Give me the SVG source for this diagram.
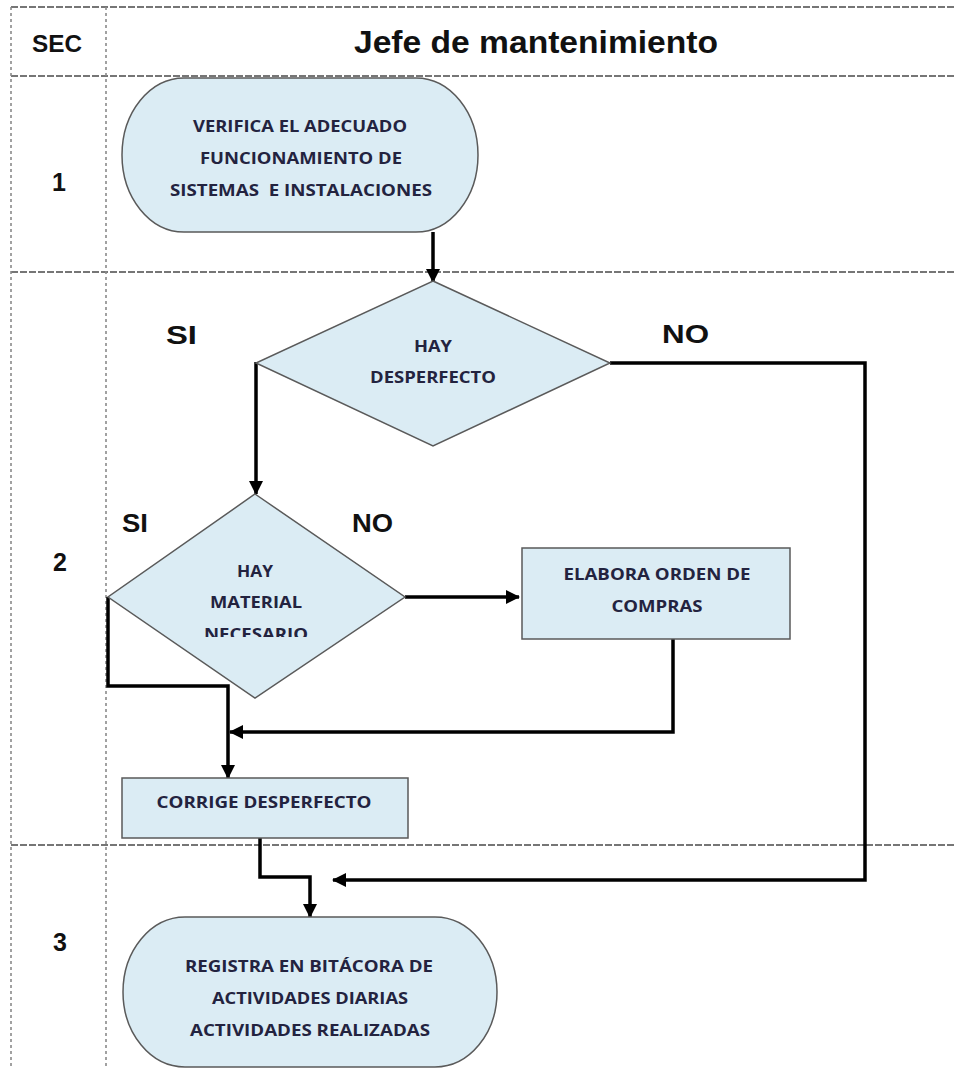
<svg xmlns="http://www.w3.org/2000/svg" width="955" height="1069" viewBox="0 0 955 1069">
  <style>
    .grid { fill: none; stroke: #4a4a4a; stroke-width: 1.6; stroke-dasharray: 7 2; }
    .gridv { fill: none; stroke: #8a8a8a; stroke-width: 1.6; stroke-dasharray: 3 3; }
    .head { font-family: "Liberation Sans", Arial, sans-serif; font-weight: bold; fill: #111; }
    .shape { fill: #dbecf4; stroke: #5a5a5a; stroke-width: 1.5; }
    .lbl { font-family: "Open Sans", Lato, sans-serif; font-weight: bold; font-size: 16.5px; fill: #23233f; text-anchor: middle; white-space: pre; }
    .yn { font-family: "Liberation Sans", Arial, sans-serif; font-weight: bold; font-size: 26px; fill: #111; }
    .conn { fill: none; stroke: #000; stroke-width: 3.5; marker-end: url(#arrow); }
  </style>
  <defs>
    <marker id="arrow" markerUnits="userSpaceOnUse" markerWidth="14" markerHeight="14" refX="13" refY="7" orient="auto">
      <path d="M0,0 L14,7 L0,14 z" fill="#000"/>
    </marker>
    <clipPath id="clipD2">
      <rect x="100" y="480" width="320" height="157"/>
    </clipPath>
  </defs>

  <rect width="955" height="1069" fill="#fff"/>

  <!-- table grid -->
  <g id="grid">
    <line class="grid" x1="11" y1="7" x2="955" y2="7"/>
    <line class="grid" x1="11" y1="76" x2="955" y2="76" stroke-width="2.6"/>
    <line class="grid" x1="11" y1="272" x2="955" y2="272"/>
    <line class="grid" x1="11" y1="845" x2="955" y2="845"/>
    <line class="gridv" x1="11" y1="7" x2="11" y2="1069" stroke-width="2.2"/>
    <line class="gridv" x1="106" y1="7" x2="106" y2="1069" stroke-dasharray="2 5"/>
    <text class="head" x="57" y="52" font-size="24" text-anchor="middle" textLength="50" lengthAdjust="spacingAndGlyphs">SEC</text>
    <text class="head" x="536" y="53" font-size="31" text-anchor="middle" textLength="364" lengthAdjust="spacingAndGlyphs">Jefe de mantenimiento</text>
    <text class="head" x="59" y="191" font-size="25" text-anchor="middle">1</text>
    <text class="head" x="60" y="571" font-size="25" text-anchor="middle">2</text>
    <text class="head" x="60" y="951" font-size="25" text-anchor="middle">3</text>
  </g>

  <!-- connectors -->
  <g id="connectors">
    <path class="conn" d="M433,232 V282"/>
    <path class="conn" d="M610,363 H865 V880 H333"/>
    <path class="conn" d="M256,362 V494"/>
    <path class="conn" d="M108,597 V686 H228 V778"/>
    <path class="conn" d="M405,597 H519"/>
    <path class="conn" d="M673,639 V732 H230"/>
    <path class="conn" d="M260,838 V877 H310 V917"/>
  </g>

  <g id="n1">
    <rect class="shape" x="122" y="78" width="356" height="154" rx="62" ry="77"/>
    <text class="lbl" x="300" y="132" textLength="214" lengthAdjust="spacingAndGlyphs">VERIFICA EL ADECUADO</text>
    <text class="lbl" x="301" y="164" textLength="202" lengthAdjust="spacingAndGlyphs">FUNCIONAMIENTO DE</text>
    <text class="lbl" x="301" y="196" textLength="262" lengthAdjust="spacingAndGlyphs" xml:space="preserve">SISTEMAS  E INSTALACIONES</text>
  </g>

  <g id="d1">
    <polygon class="shape" points="433,281 610,363 433,446 256,363"/>
    <text class="lbl" x="433" y="352" textLength="38" lengthAdjust="spacingAndGlyphs">HAY</text>
    <text class="lbl" x="433" y="383" textLength="126" lengthAdjust="spacingAndGlyphs">DESPERFECTO</text>
    <text class="yn" x="166" y="344" textLength="31" lengthAdjust="spacingAndGlyphs">SI</text>
    <text class="yn" x="662" y="343" textLength="47" lengthAdjust="spacingAndGlyphs">NO</text>
  </g>

  <g id="d2">
    <polygon class="shape" points="255,494 405,597 255,698 108,597"/>
    <g clip-path="url(#clipD2)">
      <text class="lbl" x="255" y="577" textLength="36" lengthAdjust="spacingAndGlyphs">HAY</text>
      <text class="lbl" x="256" y="608" textLength="92" lengthAdjust="spacingAndGlyphs">MATERIAL</text>
      <text class="lbl" x="256" y="640" textLength="104" lengthAdjust="spacingAndGlyphs">NECESARIO</text>
    </g>
    <text class="yn" x="122" y="532" font-size="24" textLength="26" lengthAdjust="spacingAndGlyphs">SI</text>
    <text class="yn" x="352" y="532" font-size="24" textLength="41" lengthAdjust="spacingAndGlyphs">NO</text>
  </g>

  <g id="n2">
    <rect class="shape" x="522" y="548" width="268" height="91"/>
    <text class="lbl" x="657" y="580" textLength="187" lengthAdjust="spacingAndGlyphs">ELABORA ORDEN DE</text>
    <text class="lbl" x="657" y="612" textLength="91" lengthAdjust="spacingAndGlyphs">COMPRAS</text>
  </g>

  <g id="n3">
    <rect class="shape" x="122" y="778" width="286" height="60"/>
    <text class="lbl" x="264" y="808" textLength="215" lengthAdjust="spacingAndGlyphs">CORRIGE DESPERFECTO</text>
  </g>

  <g id="n4">
    <rect class="shape" x="123" y="917" width="374" height="150" rx="62" ry="75"/>
    <text class="lbl" x="309" y="972" textLength="248" lengthAdjust="spacingAndGlyphs">REGISTRA EN BITÁCORA DE</text>
    <text class="lbl" x="310" y="1004" textLength="196" lengthAdjust="spacingAndGlyphs">ACTIVIDADES DIARIAS</text>
    <text class="lbl" x="310" y="1036" textLength="240" lengthAdjust="spacingAndGlyphs">ACTIVIDADES REALIZADAS</text>
  </g>
</svg>
